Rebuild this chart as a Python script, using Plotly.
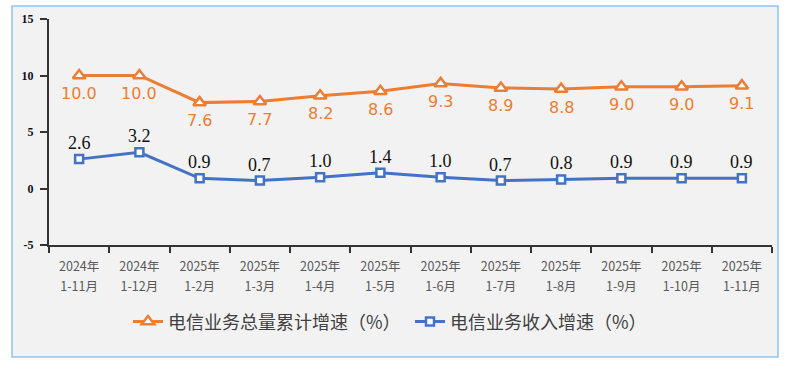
import plotly.graph_objects as go

years = ["2024年", "2024年", "2025年", "2025年", "2025年", "2025年",
         "2025年", "2025年", "2025年", "2025年", "2025年", "2025年"]
months = ["1-11月", "1-12月", "1-2月", "1-3月", "1-4月", "1-5月",
          "1-6月", "1-7月", "1-8月", "1-9月", "1-10月", "1-11月"]
categories = [f"{y} {m}" for y, m in zip(years, months)]
volume_growth = [10.0, 10.0, 7.6, 7.7, 8.2, 8.6, 9.3, 8.9, 8.8, 9.0, 9.0, 9.1]
revenue_growth = [2.6, 3.2, 0.9, 0.7, 1.0, 1.4, 1.0, 0.7, 0.8, 0.9, 0.9, 0.9]
series_names = ["电信业务总量累计增速（%）", "电信业务收入增速（%）"]
y_ticks = [-5, 0, 5, 10, 15]
y_tick_labels = ["-5", "0", "5", "10", "15"]

ORANGE = "#ED7D31"
BLUE = "#4472C4"
SERIF = "Liberation Serif, Times New Roman, serif"

fig = go.Figure()
fig.add_trace(go.Scatter(
    x=categories, y=volume_growth, name=series_names[0],
    mode="lines+markers",
    line=dict(color=ORANGE, width=3),
    marker=dict(symbol="triangle-up", size=11, color="white",
                line=dict(color=ORANGE, width=2.5)),
))
fig.add_trace(go.Scatter(
    x=categories, y=revenue_growth, name=series_names[1],
    mode="lines+markers",
    line=dict(color=BLUE, width=3),
    marker=dict(symbol="square", size=8, color="white",
                line=dict(color=BLUE, width=2.5)),
))
# carrier trace so the second-row (month) category axis knows the categories
fig.add_trace(go.Scatter(
    x=categories, y=revenue_growth, xaxis="x2", mode="lines",
    line=dict(width=0), opacity=0, showlegend=False, hoverinfo="skip",
))

annotations = []
for c, v in zip(categories, volume_growth):
    annotations.append(dict(x=c, y=v, xref="x", yref="y", text=f"{v:.1f}", showarrow=False,
                            yshift=-18, font=dict(family="DejaVu Sans", size=16, color=ORANGE)))
for c, v in zip(categories, revenue_growth):
    annotations.append(dict(x=c, y=v, xref="x", yref="y", text=f"{v:.1f}", showarrow=False,
                            yshift=16, font=dict(family=SERIF, size=18, color="#111111")))

L, R, T, B = 49, 23, 19, 120
W, H = 795, 365
pw, ph = W - L - R, H - T - B

tickfont = dict(family="Noto Sans CJK SC", size=12.5, color="#595959")

fig.update_layout(
    width=W, height=H,
    margin=dict(l=L, r=R, t=T, b=B),
    paper_bgcolor="white",
    plot_bgcolor="rgba(0,0,0,0)",
    showlegend=True,
    legend=dict(orientation="h", x=(128 - L) / pw, xanchor="left", y=-0.34, yanchor="middle",
                font=dict(family="Noto Sans CJK SC", size=18, color="#404040"),
                bgcolor="rgba(0,0,0,0)", itemwidth=30,
                entrywidth=237, entrywidthmode="pixels"),
    annotations=annotations,
    shapes=[dict(type="rect", xref="paper", yref="paper", layer="below",
                 x0=(12 - L) / pw, x1=(778 - L) / pw,
                 y0=(H - B - 357) / ph, y1=(H - B - 6) / ph,
                 fillcolor="#f2f2f2", line=dict(color="#8ec5f0", width=1.5))],
    xaxis=dict(
        type="category", showgrid=False, showline=True, linecolor="#333333", linewidth=2,
        ticks="outside", tickson="boundaries", ticklen=6, tickcolor="#333333", tickwidth=1.5,
        tickmode="array", tickvals=categories, ticktext=years,
        tickfont=tickfont, ticklabelstandoff=9,
        range=[-0.5, 11.5], fixedrange=True,
    ),
    xaxis2=dict(
        type="category", overlaying="x", anchor="y", side="bottom",
        showgrid=False, showline=False, zeroline=False, ticks="",
        tickmode="array", tickvals=categories, ticktext=months,
        tickfont=tickfont, ticklabelstandoff=32,
        range=[-0.5, 11.5], fixedrange=True,
    ),
    yaxis=dict(
        range=[-5, 15], tickvals=y_ticks, ticktext=[f"<b>{t}</b>" for t in y_tick_labels],
        showgrid=False, zeroline=False,
        showline=True, linecolor="#333333", linewidth=2,
        ticks="outside", ticklen=7, tickcolor="#333333", tickwidth=1.5,
        tickfont=dict(family=SERIF, size=12, color="#111111"), ticklabelstandoff=4,
    ),
)

fig.write_html("out.html", config={"displayModeBar": False},
               post_script="document.body.style.margin='0';")
